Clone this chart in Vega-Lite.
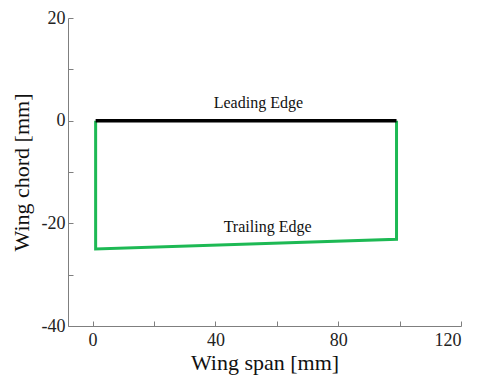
{
  "$schema": "https://vega.github.io/schema/vega-lite/v6.json",
  "autosize": "none",
  "width": 393,
  "height": 308,
  "padding": {"left": 68, "top": 18, "right": 21, "bottom": 52},
  "background": "white",
  "config": {
    "view": {"stroke": null},
    "font": "Liberation Serif",
    "axis": {
      "grid": false,
      "domainColor": "#7f7f7f",
      "tickColor": "#7f7f7f",
      "tickSize": -5,
      "labelFont": "Liberation Serif",
      "titleFont": "Liberation Serif",
      "labelFontSize": 18,
      "titleFontSize": 22,
      "titleFontWeight": "normal",
      "labelColor": "#222",
      "titleColor": "#111"
    }
  },
  "datasets": {
    "edges": [
      {"x": 1, "y": 0, "series": "leading", "order": 1},
      {"x": 99, "y": 0, "series": "leading", "order": 2},
      {"x": 1, "y": 0, "series": "outline", "order": 1},
      {"x": 1, "y": -25, "series": "outline", "order": 2},
      {"x": 99, "y": -23.1, "series": "outline", "order": 3},
      {"x": 99, "y": 0, "series": "outline", "order": 4}
    ],
    "labels": [
      {"x": 54, "y": 3.5, "text": "Leading Edge"},
      {"x": 57, "y": -20.7, "text": "Trailing Edge"}
    ]
  },
  "layer": [
    {
      "data": {"name": "edges"},
      "transform": [{"filter": "datum.series === 'outline'"}],
      "mark": {"type": "line", "strokeWidth": 3, "color": "#1db954", "strokeJoin": "miter", "clip": false},
      "encoding": {
        "x": {
          "field": "x", "type": "quantitative",
          "scale": {"domain": [-8, 120], "nice": false, "zero": false},
          "axis": {
            "title": "Wing span [mm]",
            "values": [0, 20, 40, 60, 80, 100, 120],
            "labelExpr": "datum.value % 40 === 0 ? '' + datum.value : ''",
            "labelPadding": 10,
            "titlePadding": 3
          }
        },
        "y": {
          "field": "y", "type": "quantitative",
          "scale": {"domain": [-40, 20], "nice": false, "zero": false},
          "axis": {
            "title": "Wing chord [mm]",
            "values": [-40, -30, -20, -10, 0, 10, 20],
            "labelExpr": "datum.value % 20 === 0 ? '' + datum.value : ''",
            "labelPadding": 8,
            "titlePadding": 8
          }
        },
        "order": {"field": "order"}
      }
    },
    {
      "data": {"name": "edges"},
      "transform": [{"filter": "datum.series === 'leading'"}],
      "mark": {"type": "line", "strokeWidth": 3.5, "color": "#000000", "clip": false},
      "encoding": {
        "x": {"field": "x", "type": "quantitative"},
        "y": {"field": "y", "type": "quantitative"},
        "order": {"field": "order"}
      }
    },
    {
      "data": {"name": "labels"},
      "mark": {"type": "text", "fontSize": 16, "font": "Liberation Serif", "color": "#111", "baseline": "middle", "align": "center"},
      "encoding": {
        "x": {"field": "x", "type": "quantitative"},
        "y": {"field": "y", "type": "quantitative"},
        "text": {"field": "text"}
      }
    }
  ]
}
